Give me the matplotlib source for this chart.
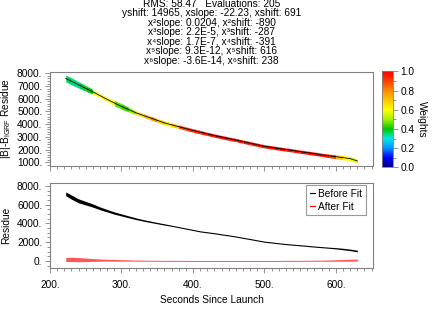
import numpy as np
import matplotlib
matplotlib.use("Agg")
import matplotlib.pyplot as plt
from matplotlib.colors import LinearSegmentedColormap, Normalize
from matplotlib.cm import ScalarMappable
from matplotlib.ticker import MultipleLocator, FormatStrFormatter
from matplotlib.lines import Line2D

# 읽어온 값들 (초 단위 시간)
t_sec = [222, 230, 240, 250, 260, 270, 280, 290, 300, 310,
         320, 330, 340, 350, 360, 370, 380, 390, 400, 410,
         420, 430, 440, 450, 460, 470, 480, 490, 500, 510,
         520, 530, 540, 550, 560, 570, 580, 590, 600, 610,
         620, 630]

# 위쪽 패널: |B|-B_IGRF residue (fit 곡선) 과 가중치
top_fit = [7600, 7380, 7100, 6820, 6550, 6250, 5950, 5670, 5400, 5150,
           4900, 4700, 4500, 4300, 4100, 3950, 3800, 3650, 3500, 3370,
           3230, 3100, 2980, 2860, 2750, 2620, 2500, 2370, 2250, 2170,
           2080, 2000, 1920, 1830, 1750, 1670, 1580, 1500, 1430, 1360,
           1280, 1100]
top_spread = [260, 280, 250, 230, 180, 160, 160, 210, 220, 190,
              160, 150, 150, 150, 160, 150, 140, 140, 140, 140,
              130, 130, 130, 130, 130, 130, 130, 130, 130, 130,
              130, 130, 130, 130, 130, 130, 130, 140, 160, 170,
              170, 160]
weights = [0.36, 0.34, 0.37, 0.40, 0.60, 0.62, 0.60, 0.46, 0.44, 0.50,
           0.65, 0.72, 0.78, 0.68, 0.62, 0.70, 0.88, 0.92, 0.94, 0.95,
           0.96, 0.97, 0.98, 0.97, 0.96, 0.97, 0.98, 0.97, 0.96, 0.97,
           0.98, 0.97, 0.96, 0.97, 0.98, 0.97, 0.95, 0.90, 0.70, 0.60,
           0.58, 0.62]

# 아래쪽 패널: fit 전/후 residue
before_fit = [7150, 6800, 6400, 6150, 5900, 5600, 5350, 5100, 4900, 4700,
              4500, 4330, 4180, 4030, 3890, 3750, 3600, 3450, 3300, 3150,
              3050, 2950, 2830, 2720, 2600, 2460, 2330, 2190, 2050, 1970,
              1880, 1800, 1730, 1670, 1600, 1530, 1470, 1410, 1350, 1270,
              1180, 1060]
before_spread = [200, 220, 210, 190, 170, 150, 130, 120, 110, 100,
                 90, 80, 80, 70, 70, 60, 60, 60, 60, 60,
                 60, 60, 60, 60, 60, 60, 60, 60, 60, 60,
                 60, 60, 60, 60, 60, 60, 60, 60, 70, 80,
                 80, 90]
after_fit = [150, 170, 140, 120, 100, 90, 80, 70, 60, 50,
             40, 30, 20, 20, 10, 10, 10, 0, 0, 0,
             0, 0, 0, 0, 0, 0, 0, 0, 0, 0,
             0, 10, 10, 10, 20, 20, 30, 30, 50, 60,
             80, 90]
after_spread = [210, 230, 220, 190, 150, 120, 100, 90, 80, 70,
                60, 60, 55, 55, 55, 55, 55, 55, 55, 55,
                55, 55, 55, 55, 55, 55, 55, 55, 55, 55,
                55, 55, 55, 55, 55, 60, 60, 70, 80, 90,
                100, 110]

header = ["RMS: 58.47   Evaluations: 205",
          "yshift: 14965, xslope: -22.23, xshift: 691",
          "x\u00b2slope: 0.0204, x\u00b2shift: -890",
          "x\u00b3slope: 2.2E-5, x\u00b3shift: -287",
          "x\u2074slope: 1.7E-7, x\u2074shift: -391",
          "x\u2075slope: 9.3E-12, x\u2075shift: 616",
          "x\u2076slope: -3.6E-14, x\u2076shift: 238"]

plt.rcParams['font.family'] = ['Liberation Sans', 'DejaVu Sans']
plt.rcParams['mathtext.fontset'] = 'custom'
plt.rcParams['mathtext.rm'] = 'Liberation Sans'
plt.rcParams['mathtext.it'] = 'Liberation Sans'
fs = 7.3
gray = '#808080'

# Igor 스타일 무지개 컬러맵
cmap = LinearSegmentedColormap.from_list("igor_rainbow", [
    (0.0, '#00007a'), (0.1, '#0000ff'), (0.2, '#0090ff'), (0.3, '#00e8e8'),
    (0.4, '#00c800'), (0.5, '#a0f000'), (0.6, '#ffff00'), (0.7, '#ffc800'),
    (0.8, '#ff8c00'), (0.9, '#ff4000'), (1.0, '#ff0000')])

t = np.array(t_sec)
fig = plt.figure(figsize=(4.33, 3.10), dpi=100)
ax1 = fig.add_axes([0.1155, 0.4645, 0.746, 0.3048])
ax2 = fig.add_axes([0.1155, 0.1355, 0.746, 0.2726])
cax = fig.add_axes([0.882, 0.4597, 0.0254, 0.3097])

# 헤더 텍스트
ys = [4, 13.4, 22.8, 32.2, 41.6, 51.0, 60.5]
for line, y in zip(header, ys):
    fig.text(211.5 / 433, 1 - y / 310, line, ha='center', va='center', fontsize=fs)

# 위쪽 패널: 가중치 색으로 칠한 데이터 + 검은 fit 선
yt = np.array(top_fit)
sp = np.array(top_spread)
for i in range(len(t) - 1):
    ax1.fill_between(t[i:i + 2], yt[i:i + 2] - sp[i:i + 2], yt[i:i + 2] + sp[i:i + 2],
                     color=cmap(weights[i]), lw=0)
ax1.plot(t, yt, color='black', lw=0.6)
ax1.set_xlim(200, 652)
ax1.set_ylim(700, 8150)
ax1.yaxis.set_major_locator(MultipleLocator(1000))
ax1.yaxis.set_minor_locator(MultipleLocator(200))
ax1.yaxis.set_major_formatter(FormatStrFormatter('%d.'))
ax1.xaxis.set_major_locator(MultipleLocator(100))
ax1.xaxis.set_minor_locator(MultipleLocator(10))
ax1.tick_params(axis='x', labelbottom=False)

# 아래쪽 패널
yb = np.array(before_fit)
bs = np.array(before_spread)
ya = np.array(after_fit)
as_ = np.array(after_spread)
ax2.fill_between(t, yb - bs, yb + bs, color='black', lw=0)
ax2.fill_between(t, ya - as_, ya + as_, color='#ff1010', alpha=0.7, lw=0)
ax2.set_xlim(200, 652)
ax2.set_ylim(-750, 8250)
ax2.yaxis.set_major_locator(MultipleLocator(2000))
ax2.yaxis.set_minor_locator(MultipleLocator(500))
ax2.yaxis.set_major_formatter(FormatStrFormatter('%d.'))
ax2.xaxis.set_major_locator(MultipleLocator(100))
ax2.xaxis.set_minor_locator(MultipleLocator(10))
ax2.xaxis.set_major_formatter(FormatStrFormatter('%d.'))

for ax in (ax1, ax2):
    for s in ax.spines.values():
        s.set_color(gray)
        s.set_linewidth(0.8)
    ax.tick_params(which='both', direction='out', color=gray, width=0.6,
                   labelsize=fs, top=False, right=False)
    ax.tick_params(which='major', length=3.5, pad=2)
    ax.tick_params(which='minor', length=2)
ax2.tick_params(axis='x', pad=5)

handles = [Line2D([], [], color='black', lw=0.8), Line2D([], [], color='red', lw=0.8)]
leg = ax2.legend(handles, ["Before Fit", "After Fit"], loc='upper right',
                 bbox_to_anchor=(1 - 7 / 323, 1 - 2 / 84.5), borderaxespad=0,
                 fontsize=fs, handlelength=0.5, handletextpad=0.35,
                 borderpad=0.35, labelspacing=0.25, fancybox=False)
leg.get_frame().set_edgecolor(gray)
leg.get_frame().set_linewidth(0.8)

fig.text(6 / 433, 0.4645 + 0.3048 / 2, r"|B|-B$_{\mathrm{IGRF}}$ Residue",
         rotation=90, ha='center', va='center', fontsize=fs)
fig.text(6 / 433, 0.1355 + 0.2726 / 2, "Residue",
         rotation=90, ha='center', va='center', fontsize=fs)
fig.text(211.5 / 433, 1 - 300 / 310, "Seconds Since Launch",
         ha='center', va='center', fontsize=fs)

# 컬러바
sm = ScalarMappable(norm=Normalize(0, 1), cmap=cmap)
cb = fig.colorbar(sm, cax=cax)
cb.outline.set_edgecolor(gray)
cb.outline.set_linewidth(0.6)
cb.set_ticks([0, 0.2, 0.4, 0.6, 0.8, 1.0])
cb.ax.yaxis.set_minor_locator(MultipleLocator(0.1))
cb.ax.yaxis.set_major_formatter(FormatStrFormatter('%.1f'))
cb.ax.tick_params(which='both', direction='out', color=gray, width=0.6, labelsize=fs)
cb.ax.tick_params(which='major', length=3.5, pad=2)
cb.ax.tick_params(which='minor', length=2)
cb.set_label("Weights", rotation=270, fontsize=fs, labelpad=9)

fig.savefig("out.png", dpi=100)
